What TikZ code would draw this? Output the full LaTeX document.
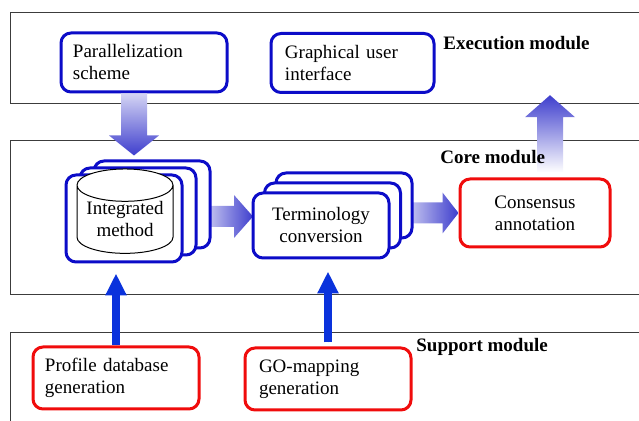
\documentclass[tikz,border=0pt]{standalone}
\usepackage{fontspec}
\setmainfont{Liberation Serif}
\usetikzlibrary{arrows.meta,calc,shapes.geometric}

\definecolor{boxblue}{RGB}{12,12,200}
\definecolor{boxred}{RGB}{240,12,12}
\definecolor{fatblue}{RGB}{62,62,205}
\definecolor{linkblue}{RGB}{10,50,220}
\definecolor{framegray}{RGB}{60,60,60}

\begin{document}
\begin{tikzpicture}[
		x=0.5pt,
		y=-0.5pt,
		font=\fontsize{9.5}{11}\selectfont,
		module/.style={
			draw=framegray,
			line width=0.6pt,
			minimum width=325pt,
			anchor=north west,
			inner sep=0pt
		},
		modlabel/.style={
			font=\fontsize{9.5}{11}\selectfont\bfseries,
			anchor=west,
			inner sep=0pt
		},
		bluebox/.style={
			rounded corners=5pt,
			draw=boxblue,
			line width=1.5pt,
			fill=white,
			inner sep=0pt
		},
		redbox/.style={
			bluebox,
			draw=boxred
		},
		txt/.style={
			text width=#1,
			align=left
		},
		dbshape/.style={
			cylinder,
			shape border rotate=90,
			aspect=0.42,
			draw=black,
			line width=0.5pt,
			fill=white,
			minimum width=48pt,
			minimum height=35pt,
			inner sep=0pt,
			align=center
		},
		link/.style={
			-{Triangle[length=11pt,width=10pt]},
			draw=linkblue,
			fill=linkblue,
			line width=4pt
		}
	]
		\useasboundingbox (0,0) rectangle (639,421);

		% module frames
		\node[module,minimum height=45.5pt] (exec) at (10,12) {};
		\node[module,minimum height=77pt] (core) at (10,140) {};
		\node[module,minimum height=54pt] (support) at (10,332) {};

		% node positions
		\coordinate (integpos) at (124,218.5);
		\coordinate (termpos) at (321,225.5);
		\node[bluebox,minimum width=83pt,minimum height=29.5pt,txt=71pt] (par) at (144,62.5) {Parallelization\\scheme};
		\node[bluebox,minimum width=81.5pt,minimum height=29.5pt,txt=67.5pt] (gui) at (352.5,63) {Graphical user\\interface};
		\node[redbox,minimum width=75pt,minimum height=34pt,align=center] (cons) at (535,213) {Consensus\\annotation};
		\node[redbox,minimum width=83pt,minimum height=31pt,txt=71pt] (profile) at (116,378) {Profile database\\generation};
		\node[redbox,minimum width=83pt,minimum height=31pt,txt=69pt] (gomap) at (328,379) {GO-mapping\\generation};

		% fat shaded arrows
		\coordinate (f1s) at ($(integpos)+(64,-2)$);
		\coordinate (f1t) at ($(f1s)+(65,0)$);
		\shade[left color=white,right color=fatblue] ($(f1s)+(0,-10.5)$) -- ($(f1t)+(-19,-10.5)$) -- ($(f1t)+(-19,-21.5)$) -- (f1t) -- ($(f1t)+(-19,21.5)$) -- ($(f1t)+(-19,10.5)$) -- ($(f1s)+(0,10.5)$) -- cycle;

		\coordinate (f2t) at (cons.west);
		\coordinate (f2s) at ($(f2t)+(-70,0)$);
		\shade[left color=white,right color=fatblue] ($(f2s)+(0,-10.5)$) -- ($(f2t)+(-16,-10.5)$) -- ($(f2t)+(-16,-20.5)$) -- (f2t) -- ($(f2t)+(-16,20.5)$) -- ($(f2t)+(-16,10.5)$) -- ($(f2s)+(0,10.5)$) -- cycle;

		\coordinate (f3s) at ($(par.south)+(-10,0)$);
		\coordinate (f3t) at ($(f3s)+(0,62)$);
		\shade[top color=fatblue!22,bottom color=fatblue] ($(f3s)+(-13,0)$) -- ($(f3t)+(-13,-20)$) -- ($(f3t)+(-25,-20)$) -- (f3t) -- ($(f3t)+(25,-20)$) -- ($(f3t)+(13,-20)$) -- ($(f3s)+(13,0)$) -- cycle;

		\coordinate (f4s) at ($(cons.north)+(15,-5)$);
		\coordinate (f4t) at ($(f4s |- exec.south)+(0,-9)$);
		\shade[top color=fatblue,bottom color=white] ($(f4s)+(-13,0)$) -- ($(f4t)+(-13,22)$) -- ($(f4t)+(-25,22)$) -- (f4t) -- ($(f4t)+(25,22)$) -- ($(f4t)+(13,22)$) -- ($(f4s)+(13,0)$) -- cycle;

		% stacked boxes
		\foreach \k in {2,1}
			\node[bluebox,minimum width=58pt,minimum height=43.5pt] (integ\k) at ($(integpos)+(14*\k,-7*\k)$) {};
		\node[bluebox,minimum width=58pt,minimum height=43.5pt] (integ) at (integpos) {};
		\node[dbshape] (db) at ($(integ)+(1,1)$) {Integrated\\method};

		\foreach \k in {2,1}
			\node[bluebox,minimum width=68pt,minimum height=32.5pt] (term\k) at ($(termpos)+(11.5*\k,-10*\k)$) {};
		\node[bluebox,minimum width=68pt,minimum height=32.5pt,align=center] (term) at (termpos) {Terminology\\conversion};

		% thin links
		\draw[link] (profile.north) -- ($(profile.north |- integ.south)+(0,10)$);
		\draw[link] ($(gomap.north)+(0,-4)$) -- ($(gomap.north |- term.south)+(0,12)$);

		% module labels
		\node[modlabel] (execlbl) at (443,43) {Execution module};
		\node[modlabel] (corelbl) at (440,157) {Core module};
		\node[modlabel] (suplbl) at (416,347) {Support module};
	\end{tikzpicture}
\end{document}
